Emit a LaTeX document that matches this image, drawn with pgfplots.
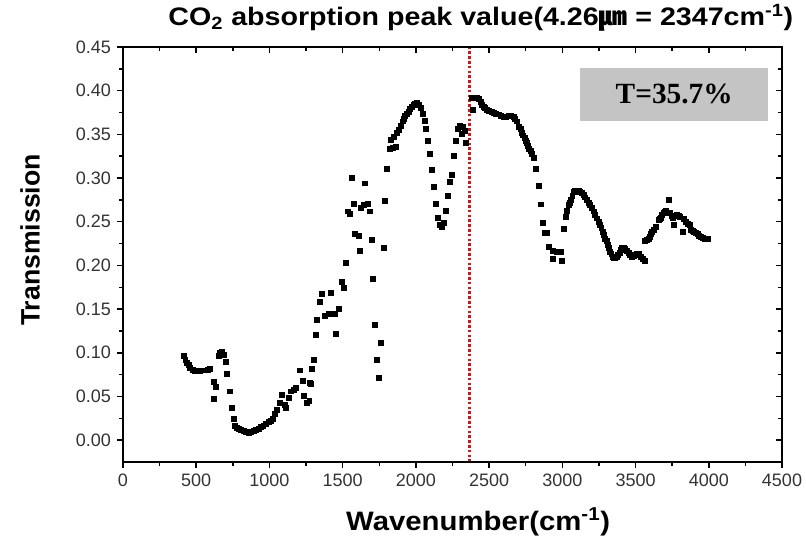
\documentclass[border=0pt]{standalone}
\usepackage{graphicx}
\usepackage{pgfplots}
\pgfplotsset{compat=1.18}
\usepackage{fontspec}
\setmainfont{Liberation Sans}
\newfontfamily\serifb{Liberation Serif}
\newfontfamily\cjk{Noto Sans CJK SC}
\definecolor{tickgray}{HTML}{333333}
\definecolor{boxgray}{HTML}{C4C4C4}
\definecolor{vline}{HTML}{DD1111}
\begin{document}
\begin{tikzpicture}
\path[use as bounding box] (-92.25pt,-58.5pt) rectangle (512.25pt,346.5pt);
\pgfplotsset{
  common/.style={
    at={(0,0)}, anchor=south west,
    scale only axis, width=494.25pt, height=311.25pt,
    xmin=0, xmax=4500, ymin=-0.025, ymax=0.45,
    xtick={0,500,...,4500}, ytick={0,0.05,...,0.451},
    minor x tick num=1, minor y tick num=1,
    major tick length=4.5pt, minor tick length=2.8pt,
    axis line style={line width=1.1pt},
    every tick/.style={line width=1.1pt, black},
  }
}
\begin{axis}[common,
    xtick pos=bottom, ytick pos=left, tick align=outside,
    /pgf/number format/assume math mode=true,
    tick label style={font=\fontsize{13.5}{15}\selectfont, text=tickgray},
    yticklabel style={/pgf/number format/fixed, /pgf/number format/fixed zerofill, /pgf/number format/precision=2, xshift=-1pt},
    xticklabel style={/pgf/number format/1000 sep={}, yshift=-1pt},
    xlabel={\scalebox{1.1}[1]{\fontsize{20}{24}\selectfont\bfseries Wavenumber(cm\textsuperscript{-1})}},
    ylabel={\fontsize{20}{24}\selectfont\bfseries Transmission},
    every axis x label/.style={at={(axis description cs:0.539,-0.145)}, anchor=center},
    every axis y label/.style={at={(axis description cs:-0.141,0.535)}, anchor=center, rotate=90},
    title={\scalebox{1.13}[1]{\fontsize{19}{23}\selectfont\bfseries CO\textsubscript{2} absorption peak value(4.26{\cjk ㎛} = 2347cm\textsuperscript{-1})}},
    every axis title/.style={at={(axis description cs:0.543,1.07)}, anchor=center},
  ]
\addplot[vline, line width=2.2pt, dash pattern=on 2pt off 1.6pt] coordinates {(2365,-0.025) (2365,0.45)};
\addplot[only marks, mark=square*, mark size=1.85pt, black] table {
x y
412 0.097
425 0.092
435 0.089
446 0.086
458 0.083
475 0.081
492 0.079
509 0.079
526 0.079
543 0.080
560 0.080
577 0.081
594 0.082
617 0.067
622 0.047
633 0.061
651 0.097
663 0.100
674 0.101
685 0.098
699 0.090
710 0.076
726 0.056
742 0.037
754 0.024
765 0.017
776 0.014
788 0.013
805 0.012
822 0.011
839 0.010
856 0.009
873 0.010
890 0.011
907 0.012
924 0.013
941 0.015
958 0.017
975 0.019
993 0.021
1008 0.022
1022 0.024
1038 0.030
1050 0.035
1068 0.043
1084 0.052
1107 0.041
1113 0.037
1129 0.049
1145 0.056
1163 0.058
1182 0.060
1204 0.080
1227 0.068
1236 0.051
1254 0.043
1272 0.045
1277 0.066
1282 0.065
1289 0.082
1300 0.092
1318 0.121
1323 0.138
1346 0.158
1357 0.168
1380 0.142
1402 0.145
1419 0.169
1448 0.145
1450 0.122
1471 0.150
1494 0.181
1505 0.174
1523 0.203
1532 0.262
1546 0.259
1562 0.300
1573 0.271
1585 0.236
1607 0.234
1614 0.217
1624 0.266
1646 0.269
1653 0.294
1669 0.271
1683 0.262
1699 0.229
1705 0.185
1721 0.132
1733 0.092
1744 0.071
1760 0.111
1778 0.220
1785 0.274
1801 0.311
1819 0.334
1828 0.344
1842 0.335
1846 0.347
1860 0.336
1870 0.352
1881 0.355
1897 0.360
1908 0.365
1918 0.368
1926 0.371
1938 0.374
1949 0.376
1960 0.379
1972 0.382
1984 0.384
1995 0.385
2006 0.386
2017 0.384
2033 0.380
2047 0.374
2058 0.366
2070 0.356
2083 0.343
2097 0.328
2109 0.309
2120 0.290
2136 0.271
2147 0.255
2161 0.247
2177 0.244
2193 0.249
2202 0.263
2218 0.280
2234 0.296
2245 0.304
2256 0.325
2275 0.343
2284 0.356
2302 0.360
2313 0.351
2320 0.359
2336 0.354
2343 0.340
2382 0.392
2386 0.378
2393 0.392
2404 0.392
2418 0.392
2432 0.391
2441 0.387
2450 0.384
2462 0.382
2473 0.380
2486 0.378
2500 0.377
2515 0.376
2529 0.375
2546 0.374
2564 0.373
2581 0.371
2598 0.370
2615 0.370
2632 0.371
2649 0.371
2666 0.370
2678 0.368
2689 0.365
2705 0.359
2714 0.356
2723 0.352
2732 0.349
2741 0.346
2749 0.343
2757 0.340
2765 0.337
2773 0.334
2783 0.331
2792 0.328
2807 0.323
2819 0.311
2837 0.291
2850 0.270
2864 0.249
2878 0.237
2894 0.237
2910 0.221
2932 0.217
2935 0.208
2962 0.216
2992 0.216
2995 0.205
3012 0.242
3024 0.256
3033 0.263
3042 0.269
3051 0.272
3060 0.275
3068 0.280
3076 0.284
3088 0.285
3099 0.285
3111 0.285
3122 0.284
3133 0.283
3144 0.281
3156 0.278
3167 0.275
3178 0.272
3190 0.269
3201 0.266
3212 0.262
3224 0.258
3236 0.254
3247 0.250
3258 0.247
3266 0.243
3274 0.239
3283 0.235
3292 0.231
3301 0.228
3311 0.224
3318 0.220
3326 0.216
3334 0.213
3342 0.210
3349 0.209
3360 0.209
3372 0.210
3381 0.212
3390 0.215
3398 0.218
3406 0.220
3418 0.220
3429 0.219
3440 0.217
3452 0.215
3463 0.212
3475 0.210
3486 0.211
3497 0.212
3509 0.213
3520 0.213
3536 0.210
3550 0.208
3566 0.205
3560 0.228
3575 0.229
3588 0.231
3596 0.233
3604 0.236
3613 0.238
3622 0.241
3641 0.244
3657 0.252
3665 0.253
3673 0.255
3682 0.258
3691 0.260
3700 0.262
3709 0.263
3725 0.275
3736 0.260
3745 0.257
3755 0.254
3764 0.247
3782 0.258
3793 0.257
3805 0.256
3823 0.239
3832 0.253
3843 0.250
3855 0.248
3873 0.247
3878 0.241
3889 0.240
3900 0.239
3912 0.237
3923 0.236
3934 0.234
3946 0.233
3958 0.232
3969 0.231
3980 0.230
3991 0.230
};
\node[fill=boxgray, minimum width=141pt, minimum height=40pt, inner sep=0pt] at (axis cs:3764,0.396) {\serifb\fontsize{22}{26}\selectfont\bfseries T=35.7\%};
\end{axis}
\begin{axis}[common,
    xtick pos=top, ytick pos=right, tick align=inside,
    xticklabels={}, yticklabels={},
  ]
\end{axis}
\end{tikzpicture}
\end{document}
